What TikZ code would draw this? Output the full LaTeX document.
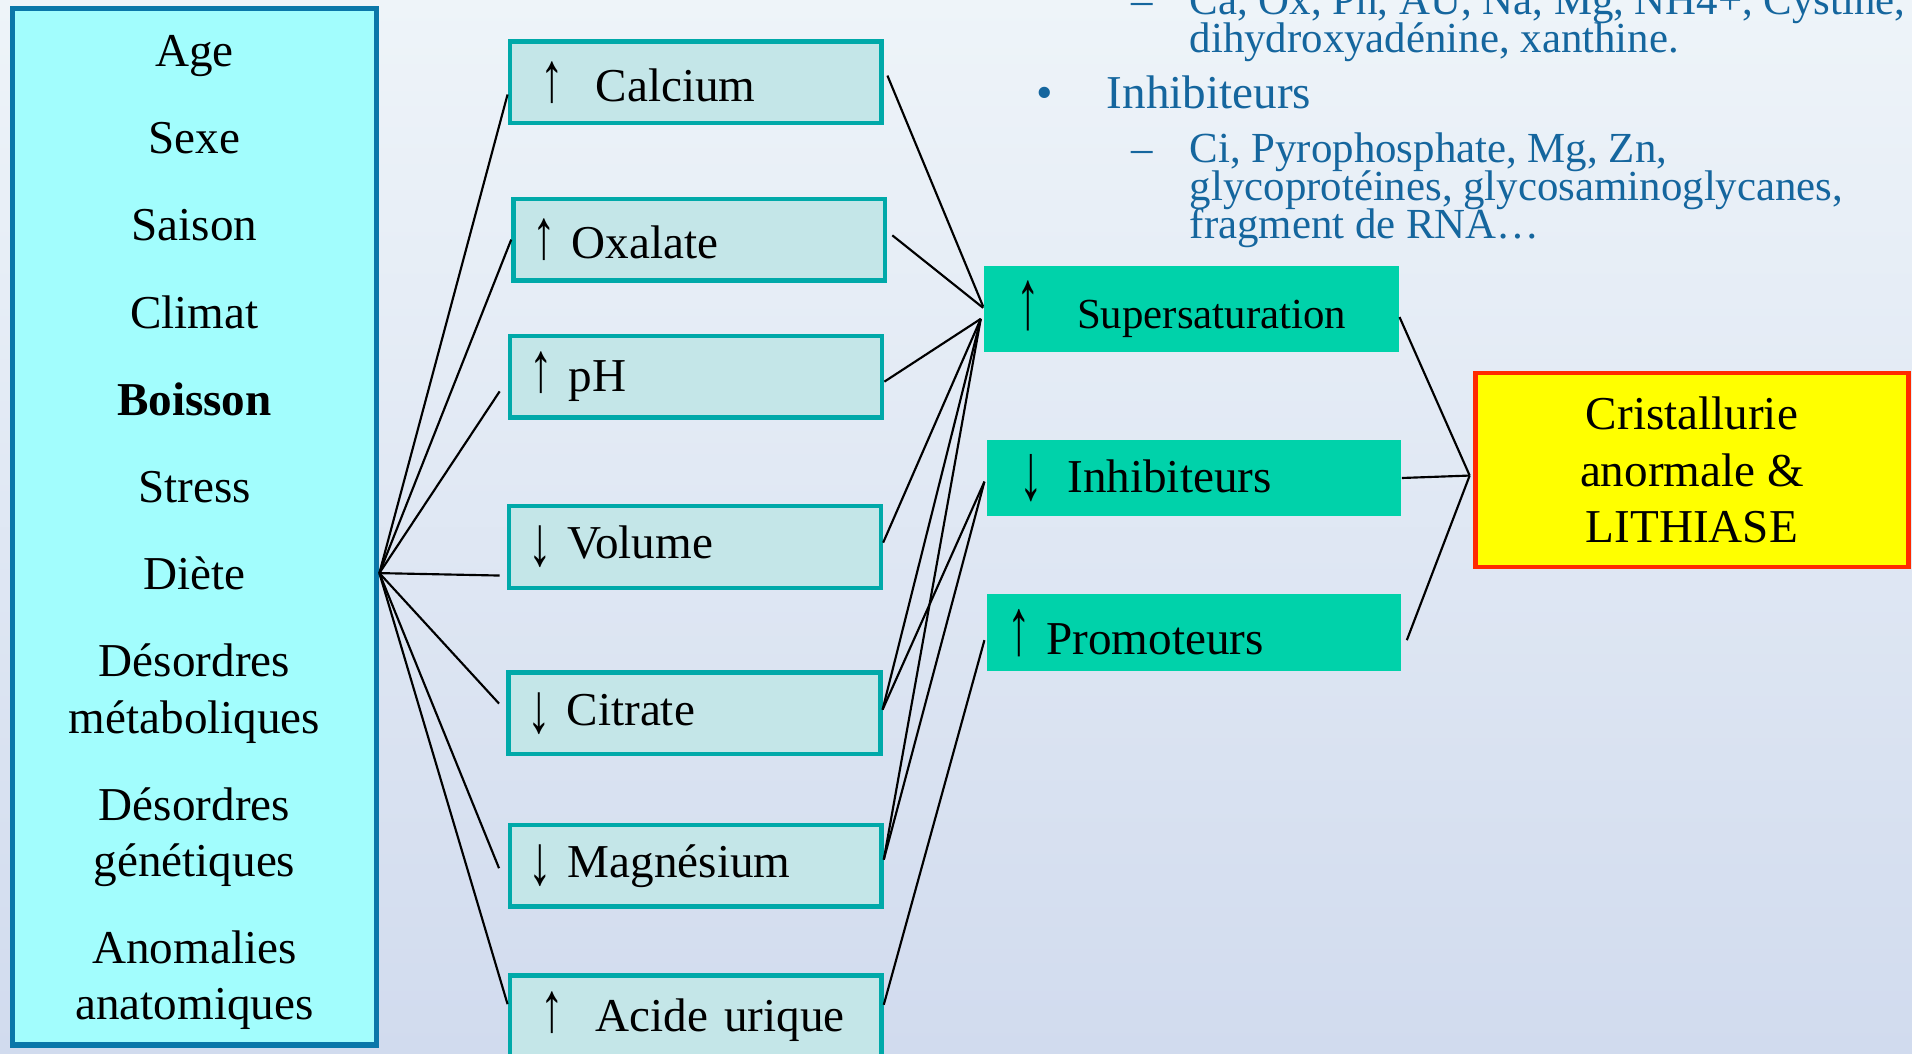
\documentclass[tikz,border=0pt]{standalone}
\usepackage{fontspec}
\setmainfont{Liberation Serif}
\usepackage{xcolor}
\usepackage{tikz}
\usetikzlibrary{positioning}
\definecolor{FactorFill}{HTML}{A2FDFD}
\definecolor{FactorEdge}{HTML}{0A77A9}
\definecolor{CauseFill}{HTML}{C4E6E8}
\definecolor{CauseEdge}{HTML}{00A9A9}
\definecolor{MechFill}{HTML}{00D2AA}
\definecolor{OutcomeFill}{HTML}{FFFF00}
\definecolor{OutcomeEdge}{HTML}{FF2A00}
\definecolor{ListInk}{HTML}{15669E}
\definecolor{BackTop}{HTML}{EEF4F9}
\definecolor{BackBottom}{HTML}{D1DBEE}
\newcommand{\ListFont}{\fontsize{10}{8.8}\selectfont}
\newcommand{\Hausse}[1][1.5]{\scalebox{1}[#1]{↑}}
\newcommand{\Baisse}[1][1.5]{\raisebox{-0.15em}{\scalebox{1}[#1]{↓}}}

\begin{document}
\lineskiplimit=-20pt
\begin{tikzpicture}[
  factorpanel/.style={draw=FactorEdge,line width=1.2pt,fill=FactorFill,align=center,
                      font=\fontsize{11}{13.1}\selectfont,minimum width=2.99cm,minimum height=8.5cm},
  causebox/.style={draw=CauseEdge,line width=1pt,fill=CauseFill,align=left,text width=2.74cm,
                   inner xsep=0.155cm,minimum height=0.67cm,font=\fontsize{11}{13}\selectfont},
  mechbox/.style={fill=MechFill,align=left,text width=3.06cm,inner xsep=0.17cm,
                  minimum height=0.63cm,font=\fontsize{11}{13}\selectfont},
  outcomebox/.style={draw=OutcomeEdge,line width=1pt,fill=OutcomeFill,align=center,
                     minimum width=3.55cm,minimum height=1.59cm,font=\fontsize{11}{13.2}\selectfont},
  listtext/.style={text=ListInk,align=left,inner sep=0pt,anchor=base west,font=\ListFont},
  link/.style={line width=0.5pt,black},
]
  \useasboundingbox (0,0) rectangle (15.68,-8.64);
  \shade[top color=BackTop,bottom color=BackBottom] (0,0) rectangle (15.68,-8.64);

  % texte de la diapositive (ancre = derniere ligne)
  \node[listtext] (dashA) at (9.27,-0.12) {–};
  \node[listtext] (promoteurs) at (9.75,-0.43)
    {Ca, Ox, Ph, AU, Na, Mg, NH4+, Cystine,\\dihydroxyadénine, xanthine.};
  \node[listtext,font=\fontsize{11}{13}\selectfont] (bullet) at (8.49,-0.89) {•};
  \node[listtext,font=\fontsize{11}{13}\selectfont] (inhibtitle) at (9.07,-0.89) {Inhibiteurs};
  \node[listtext] (dashB) at (9.27,-1.33) {–};
  \node[listtext] (inhiblist) at (9.75,-1.955)
    {Ci, Pyrophosphate, Mg, Zn,\\glycoprotéines, glycosaminoglycanes,\\fragment de RNA…};

  \node[factorpanel] (facteurs) at (1.595,-4.32) {%
    \rule{0pt}{0.35cm}Age\\[0.255cm] Sexe\\[0.255cm] Saison\\[0.255cm] Climat\\[0.255cm] \textbf{Boisson}\\[0.255cm]
    Stress\\[0.255cm] Diète\\[0.255cm] Désordres\\métaboliques\\[0.255cm]
    Désordres\\génétiques\\[0.255cm] Anomalies\\anatomiques};

  \node[causebox] (calcium) at (5.705,-0.675) {\hspace*{0.1cm}\Hausse\ \ Calcium};
  \node[causebox] (oxalate) at (5.735,-1.965) {\Hausse\ Oxalate};
  \node[causebox] (ph) at (5.71,-3.09) {\Hausse\ pH};
  \node[causebox] (volume) at (5.70,-4.485) {\Baisse\ Volume};
  \node[causebox] (citrate) at (5.695,-5.85) {\Baisse\ Citrate};
  \node[causebox] (magnesium) at (5.705,-7.10) {\Baisse\ Magnésium};
  \node[causebox] (uric) at (5.705,-8.335) {\hspace*{0.1cm}\Hausse\ \ Acide urique};

  \node[mechbox] (supersat) at (9.77,-2.535)
    {\hspace*{0.1cm}\Hausse[1.8]\hspace{0.3cm}{\fontsize{10}{12}\selectfont Supersaturation}};
  \node[mechbox] (inhib) at (9.79,-3.92) {\hspace*{0.1cm}\Baisse[1.7]\hspace{0.2cm}Inhibiteurs};
  \node[mechbox] (promot) at (9.79,-5.19) {\Hausse[1.7]\ Promoteurs};

  \node[outcomebox] (lithiase) at (13.875,-3.855) {Cristallurie\\anormale \&\\LITHIASE};

  % liaisons
  \coordinate (hub) at ([yshift=-0.38cm]facteurs.east);
  \coordinate (supin) at ([shift={(-0.02,-0.08)}]supersat.west);
  \coordinate (inhibin) at ([shift={(-0.01,-0.03)}]inhib.west);
  \coordinate (promotin) at ([shift={(-0.01,-0.06)}]promot.west);
  \coordinate (lithin) at ([shift={(-0.03,-0.045)}]lithiase.west);

  \draw[link] (hub) -- ([yshift=-0.1cm]calcium.west);
  \draw[link] (hub) -- (oxalate.west);
  \draw[link] (hub) -- ([shift={(-0.07,-0.12)}]ph.west);
  \draw[link] (hub) -- ([shift={(-0.06,-0.235)}]volume.west);
  \draw[link] (hub) -- ([shift={(-0.06,0.08)}]citrate.west);
  \draw[link] (hub) -- ([shift={(-0.07,-0.02)}]magnesium.west);
  \draw[link] (hub) -- ([yshift=0.1cm]uric.west);

  \draw[link] ([shift={(0.03,0.055)}]calcium.east) -- ([yshift=0.02cm]supersat.west);
  \draw[link] ([shift={(0.04,0.035)}]oxalate.east) -- ([yshift=0.01cm]supersat.west);
  \draw[link] ([yshift=-0.04cm]ph.east) -- (supin);
  \draw[link] ([yshift=0.035cm]volume.east) -- (supin);
  \draw[link] ([yshift=0.03cm]citrate.east) -- (supin);
  \draw[link] ([yshift=0.03cm]citrate.east) -- (inhibin);
  \draw[link] ([yshift=0.05cm]magnesium.east) -- (supin);
  \draw[link] ([yshift=0.05cm]magnesium.east) -- (inhibin);
  \draw[link] ([yshift=0.095cm]uric.east) -- (promotin);

  \draw[link] ([yshift=-0.065cm]supersat.east) -- (lithin);
  \draw[link] (inhib.east) -- (lithin);
  \draw[link] ([shift={(0.04,-0.06)}]promot.east) -- (lithin);
\end{tikzpicture}
\end{document}
